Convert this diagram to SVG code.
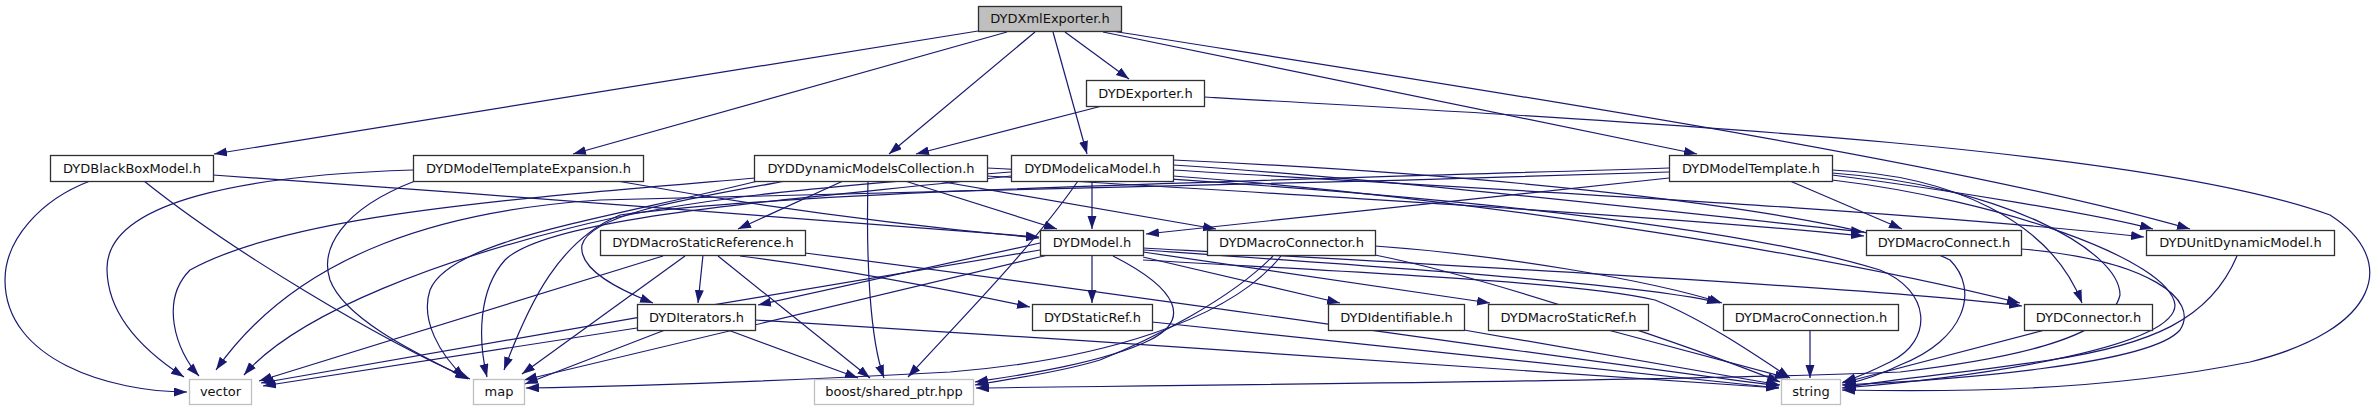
<svg xmlns="http://www.w3.org/2000/svg" width="2375" height="411" viewBox="0 0 2375 411">
<style>
.n rect{fill:#fff;stroke:#303030;stroke-width:1.3}
.n.ext rect{stroke:#bfbfbf}
.n.root rect{fill:#bfbfbf}
.n text{font-family:"DejaVu Sans",sans-serif;font-size:13px;fill:#111;text-anchor:middle}
#edges path{fill:none;stroke:#191970;stroke-width:1.2;marker-end:url(#ah)}
</style>
<defs>
<marker id="ah" markerUnits="userSpaceOnUse" markerWidth="14" markerHeight="10" refX="13" refY="4.5" orient="auto">
<path d="M0,0 L13,4.5 L0,9 z" fill="#191970"/>
</marker>
</defs>
<rect width="2375" height="411" fill="#fff"/>
<g id="edges">
<path d="M978,31 L214,154"/>
<path d="M1007,32 L573,154"/>
<path d="M1035,32 L889,154"/>
<path d="M1053,32 L1087,154"/>
<path d="M1065,32 L1129,79"/>
<path d="M1103,32 L1697,154"/>
<path d="M1112,31 C1450,85 1950,160 2190,229"/>
<path d="M1102,106 L916,154"/>
<path d="M1204,97 C1700,125 2150,150 2330,215 C2400,260 2380,330 2250,362 C2100,392 1950,392 1842,390"/>
<path d="M90,181 C40,200 5,240 5,280 C5,360 110,392 187,392"/>
<path d="M144,181 C230,250 380,340 470,379"/>
<path d="M213,175 C500,195 850,222 1039,237"/>
<path d="M413,170 C250,175 105,200 107,270 C108,320 150,355 184,377"/>
<path d="M415,181 C340,210 320,250 330,280 C345,320 420,355 468,379"/>
<path d="M617,181 C750,205 900,225 1039,238"/>
<path d="M843,181 L738,229"/>
<path d="M868,181 C866,260 870,340 884,378"/>
<path d="M905,181 L1057,229"/>
<path d="M938,181 L1216,229"/>
<path d="M786,181 C680,200 590,215 582,245 C578,270 620,290 653,303"/>
<path d="M755,178 C500,200 290,215 190,270 C160,300 175,350 199,376"/>
<path d="M758,181 C600,220 450,240 430,290 C420,320 440,355 465,378"/>
<path d="M987,168 C1300,185 1700,215 1880,270 C1930,290 1935,340 1890,362 C1870,372 1855,378 1843,382"/>
<path d="M987,176 C1300,195 1650,215 1864,236"/>
<path d="M1092,181 L1092,229"/>
<path d="M1078,181 C1030,250 960,320 908,377"/>
<path d="M1011,176 C800,200 550,215 505,260 C478,290 478,340 487,377"/>
<path d="M1011,172 C850,185 700,195 570,228 C450,258 300,310 244,375"/>
<path d="M1173,165 C1400,180 1700,215 1864,232"/>
<path d="M1173,170 C1500,190 1900,210 2144,237"/>
<path d="M1173,176 C1500,200 1850,260 2020,303"/>
<path d="M1173,160 C1500,175 1850,210 1950,260 C1980,290 1965,340 1900,365 C1880,375 1860,381 1843,385"/>
<path d="M1669,178 L1146,234"/>
<path d="M1669,172 C1300,185 900,190 600,200 C450,210 300,250 216,370"/>
<path d="M1669,168 C1300,180 800,190 620,215 C560,240 530,300 504,370"/>
<path d="M1790,181 L1902,229"/>
<path d="M1832,175 C1950,190 2100,215 2153,229"/>
<path d="M1832,170 C1950,175 2050,220 2082,303"/>
<path d="M1832,180 C2000,200 2170,260 2175,305 C2175,345 2000,375 1843,388"/>
<path d="M1832,173 C2000,185 2120,250 2120,295 C2110,340 2000,360 1900,372 C1700,380 1300,384 976,388"/>
<path d="M1040,243 L758,305"/>
<path d="M1092,255 L1092,303"/>
<path d="M1143,257 L1340,303"/>
<path d="M1143,252 L1490,303"/>
<path d="M1143,250 C1400,268 1650,285 1720,303"/>
<path d="M1143,248 C1500,268 1900,290 2022,306"/>
<path d="M1143,260 C1350,272 1580,282 1655,300 C1705,320 1760,358 1790,378"/>
<path d="M1040,250 C800,290 500,340 261,383"/>
<path d="M1048,255 L524,380"/>
<path d="M1113,256 C1180,290 1190,320 1150,340 C1100,365 1000,378 975,382"/>
<path d="M703,255 L698,303"/>
<path d="M663,256 L259,381"/>
<path d="M685,256 L522,374"/>
<path d="M718,256 L870,378"/>
<path d="M740,256 C850,270 950,290 1030,307"/>
<path d="M805,253 C1100,290 1500,350 1779,386"/>
<path d="M637,328 L263,386"/>
<path d="M665,330 L525,384"/>
<path d="M728,330 L858,378"/>
<path d="M755,320 C1100,340 1500,370 1779,388"/>
<path d="M1273,256 C1230,300 1150,340 1100,360 C1050,375 1000,380 975,385"/>
<path d="M1281,256 C1230,320 1100,360 950,372 C800,380 650,386 526,388"/>
<path d="M1375,246 C1500,255 1650,280 1722,303"/>
<path d="M1375,255 C1500,280 1700,350 1780,382"/>
<path d="M1152,322 L1779,388"/>
<path d="M1464,330 L1780,385"/>
<path d="M1608,330 L1788,378"/>
<path d="M1810,330 L1810,378"/>
<path d="M2045,330 L1842,383"/>
<path d="M2021,249 C2150,260 2200,300 2180,330 C2150,365 1950,380 1842,385"/>
<path d="M2237,256 C2210,320 2150,345 2050,360 C1950,375 1880,380 1842,388"/>
</g>
<g id="n_root" class="n root"><rect x="978.5" y="6.5" width="143" height="25"/><text x="1050" y="23">DYDXmlExporter.h</text></g>
<g id="n_exporter" class="n"><rect x="1086.5" y="80.5" width="118" height="26"/><text x="1145.5" y="97.5">DYDExporter.h</text></g>
<g id="n_blackbox" class="n"><rect x="50.5" y="155.5" width="163" height="26"/><text x="132" y="172.5">DYDBlackBoxModel.h</text></g>
<g id="n_mte" class="n"><rect x="413.5" y="155.5" width="230" height="26"/><text x="528.5" y="172.5">DYDModelTemplateExpansion.h</text></g>
<g id="n_dmc" class="n"><rect x="754.5" y="155.5" width="233" height="26"/><text x="871" y="172.5">DYDDynamicModelsCollection.h</text></g>
<g id="n_mm" class="n"><rect x="1011.5" y="155.5" width="162" height="26"/><text x="1092.5" y="172.5">DYDModelicaModel.h</text></g>
<g id="n_mt" class="n"><rect x="1669.5" y="155.5" width="163" height="26"/><text x="1751" y="172.5">DYDModelTemplate.h</text></g>
<g id="n_msr" class="n"><rect x="600.5" y="230.5" width="205" height="25"/><text x="703" y="247">DYDMacroStaticReference.h</text></g>
<g id="n_model" class="n"><rect x="1040.5" y="230.5" width="103" height="25"/><text x="1092" y="247">DYDModel.h</text></g>
<g id="n_mcr" class="n"><rect x="1207.5" y="230.5" width="168" height="25"/><text x="1291.5" y="247">DYDMacroConnector.h</text></g>
<g id="n_mct" class="n"><rect x="1866.5" y="230.5" width="155" height="25"/><text x="1944" y="247">DYDMacroConnect.h</text></g>
<g id="n_udm" class="n"><rect x="2146.5" y="230.5" width="188" height="25"/><text x="2240.5" y="247">DYDUnitDynamicModel.h</text></g>
<g id="n_it" class="n"><rect x="637.5" y="304.5" width="118" height="26"/><text x="696.5" y="321.5">DYDIterators.h</text></g>
<g id="n_sr" class="n"><rect x="1032.5" y="304.5" width="120" height="26"/><text x="1092.5" y="321.5">DYDStaticRef.h</text></g>
<g id="n_id" class="n"><rect x="1328.5" y="304.5" width="136" height="26"/><text x="1396.5" y="321.5">DYDIdentifiable.h</text></g>
<g id="n_msrf" class="n"><rect x="1488.5" y="304.5" width="160" height="26"/><text x="1568.5" y="321.5">DYDMacroStaticRef.h</text></g>
<g id="n_mcn" class="n"><rect x="1723.5" y="304.5" width="175" height="26"/><text x="1811" y="321.5">DYDMacroConnection.h</text></g>
<g id="n_cn" class="n"><rect x="2024.5" y="304.5" width="128" height="26"/><text x="2088.5" y="321.5">DYDConnector.h</text></g>
<g id="n_vector" class="n ext"><rect x="189.5" y="379.5" width="62" height="25"/><text x="220.5" y="396">vector</text></g>
<g id="n_map" class="n ext"><rect x="473.5" y="379.5" width="51" height="25"/><text x="499" y="396">map</text></g>
<g id="n_boost" class="n ext"><rect x="814.5" y="379.5" width="159" height="25"/><text x="894" y="396">boost/shared_ptr.hpp</text></g>
<g id="n_string" class="n ext"><rect x="1781.5" y="379.5" width="59" height="25"/><text x="1811" y="396">string</text></g>
</svg>
